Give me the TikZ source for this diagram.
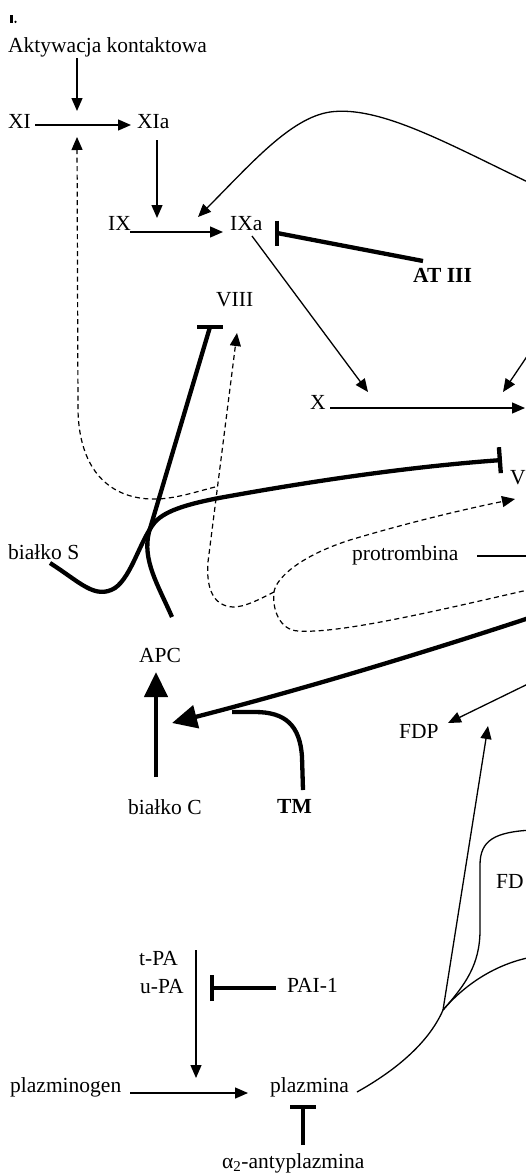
\documentclass[tikz,border=0pt]{standalone}
\usepackage{fontspec}
\setmainfont{Liberation Serif}
\usetikzlibrary{arrows.meta}
\begin{document}
\begin{tikzpicture}[x=1pt,y=-1pt,
  lbl/.style={inner sep=0pt, anchor=base west, font=\fontsize{21.5}{24}\selectfont},
  boldlbl/.style={lbl, font=\fontsize{21.5}{24}\selectfont\bfseries},
  thinline/.style={line width=1.3pt},
  arr/.style={thinline, -{Triangle[length=13pt,width=11pt]}},
  dashline/.style={line width=1.2pt, dash pattern=on 5pt off 3.5pt},
  darr/.style={dashline, -{Triangle[length=13pt,width=11pt]}},
  inhib/.style={line width=4.3pt, -{Bar[width=26pt,line width=4.3pt]}},
  bigarr/.style={line width=4.3pt, -{Triangle[length=25pt,width=23pt]}},
  thickline/.style={line width=4.3pt}
]
\fill[white] (0,0) rectangle (526,1175);
\useasboundingbox (0,0) rectangle (526,1175);
\clip (0,0) rectangle (526,1175);

% small mark in the top-left corner
\fill (9.5,15) rectangle (12.5,23);
\fill (15.5,21.8) circle (1.3pt);

% ---------- labels ----------
\node[lbl] (akt) at (8,52) {Aktywacja kontaktowa};
\node[lbl] (xi) at (8,128) {XI};
\node[lbl] (xia) at (137,128) {XIa};
\node[lbl] (ix) at (108,230) {IX};
\node[lbl] (ixa) at (230,230) {IXa};
\node[boldlbl] (at3) at (413,282) {AT III};
\node[lbl] (viii) at (216,306) {VIII};
\node[lbl] (x) at (310,409) {X};
\node[lbl] (v) at (510,484) {V};
\node[lbl] (pro) at (352,560) {protrombina};
\node[lbl] (bs) at (8,559) {białko S};
\node[lbl] (apc) at (139,662) {APC};
\node[lbl] (fdpa) at (399,738) {FDP};
\node[lbl] (bc) at (128,814) {białko C};
\node[boldlbl] (tm) at (277,813) {TM};
\node[lbl] (fdpb) at (496,888) {FD};
\node[lbl] (tpa) at (139,965) {t-PA};
\node[lbl] (upa) at (140,993) {u-PA};
\node[lbl] (pai) at (287,992) {PAI-1};
\node[lbl] (plg) at (10,1092) {plazminogen};
\node[lbl] (pl) at (270,1092) {plazmina};
\node[lbl] (a2ap) at (222,1168) {α\textsubscript{2}-antyplazmina};

% ---------- connector end points ----------
\coordinate (aktB) at (77,58);   \coordinate (xiIn) at (77,111);
\coordinate (xiR) at (35,125);   \coordinate (xiaL) at (131,125);
\coordinate (xiaB) at (157,140); \coordinate (ixIn) at (157,218);
\coordinate (ixR) at (130,232);  \coordinate (ixaL) at (223,232);
\coordinate (topR) at (532,184); \coordinate (ixaIn) at (198,217);
\coordinate (at3L) at (423,261); \coordinate (ixaBar) at (277,233);
\coordinate (ixaB) at (252,236); \coordinate (xIn) at (368,392);
\coordinate (xR) at (330,408);   \coordinate (xaIn) at (525,408);
\coordinate (upR) at (532,349);  \coordinate (xaIn2) at (503,392);
\coordinate (proR) at (477,556); \coordinate (proE) at (532,556);
\coordinate (fbR) at (532,589);  \coordinate (loopJ) at (274,592);
\coordinate (vIn) at (515,499);  \coordinate (viiiIn) at (237,333);
\coordinate (xiJ) at (215,487);  \coordinate (xiUp) at (77,137);
\coordinate (bsL) at (50,563);   \coordinate (vBar) at (502,460);
\coordinate (apcT) at (172,617); \coordinate (viiiBar) at (210,327);
\coordinate (thR) at (532,617);  \coordinate (apcArr) at (172,723);
\coordinate (tmT) at (303,790);  \coordinate (tmJ) at (232,712);
\coordinate (bcT) at (156,777);  \coordinate (apcB) at (156,672);
\coordinate (fdpR) at (532,682); \coordinate (fdpaIn) at (448,723);
\coordinate (plR) at (357,1092); \coordinate (plJ) at (443,1010);
\coordinate (fdpaUp) at (488,726);
\coordinate (fdR1) at (532,830); \coordinate (fdR2) at (532,957);
\coordinate (tpaB) at (196,950); \coordinate (plgIn) at (196,1078);
\coordinate (paiL) at (276,988); \coordinate (paBar) at (210,988);
\coordinate (plgR) at (130,1093);\coordinate (plL) at (248,1093);
\coordinate (a2T) at (303,1145); \coordinate (plBar) at (303,1105);

% ---------- intrinsic pathway ----------
\draw[arr] (aktB) -- (xiIn);
\draw[arr] (xiR) -- (xiaL);
\draw[arr] (xiaB) -- (ixIn);
\draw[arr] (ixR) -- (ixaL);
\draw[arr] (topR) .. controls (450,145) and (380,105) .. (330,112)
                  .. controls (290,118) and (250,165) .. (ixaIn);
% antithrombin blocks IXa (upright bar)
\draw[thickline] (at3L) -- (ixaBar);
\draw[thickline] (ixaBar) ++(0,-12.5) -- ++(0,25);
\draw[arr] (ixaB) -- (xIn);
\draw[arr] (xR) -- (xaIn);
\draw[arr] (upR) -- (xaIn2);
\draw[thinline] (proR) -- (proE);

% ---------- dashed feedback loops ----------
\draw[darr] (fbR) .. controls (440,610) and (340,634) .. (298,631)
                  .. controls (280,630) and (272,610) .. (loopJ)
                  .. controls (276,578) and (300,556) .. (350,540)
                  .. controls (400,525) and (460,510) .. (vIn);
\draw[darr] (loopJ) .. controls (258,600) and (245,607) .. (233,607)
                    .. controls (213,606) and (206,588) .. (208,562)
                    -- (viiiIn);
\draw[darr] (xiJ) .. controls (195,492) and (172,500) .. (150,499)
                  .. controls (105,497) and (79,465) .. (78,410)
                  -- (xiUp);

% ---------- protein C / protein S ----------
\draw[inhib] (bsL) .. controls (80,582) and (95,600) .. (115,588)
                   .. controls (132,576) and (140,540) .. (155,522)
                   .. controls (166,510) and (190,503) .. (230,496)
                   .. controls (330,478) and (420,466) .. (vBar);
% APC blocks VIII (level bar)
\draw[thickline] (apcT) .. controls (158,585) and (142,560) .. (149,532)
                    -- (viiiBar);
\draw[thickline] (viiiBar) ++(-13,0) -- ++(26,0);
\draw[bigarr] (thR) .. controls (420,654) and (300,690) .. (apcArr);
\draw[thickline] (tmT) -- (302,757) .. controls (300,725) and (285,712) .. (255,712) -- (tmJ);
\draw[bigarr] (bcT) -- (apcB);

% ---------- fibrinolysis ----------
\draw[arr] (fdpR) -- (fdpaIn);
\draw[arr] (plR) .. controls (400,1068) and (430,1040) .. (plJ) -- (fdpaUp);
\draw[thinline] (plJ) .. controls (465,985) and (480,965) .. (480,930) -- (480,865)
                      .. controls (480,840) and (495,832) .. (fdR1);
\draw[thinline] (plJ) .. controls (460,990) and (490,965) .. (fdR2);
\draw[arr] (tpaB) -- (plgIn);
\draw[inhib] (paiL) -- (paBar);
\draw[arr] (plgR) -- (plL);
\draw[inhib] (a2T) -- (plBar);
\end{tikzpicture}
\end{document}
